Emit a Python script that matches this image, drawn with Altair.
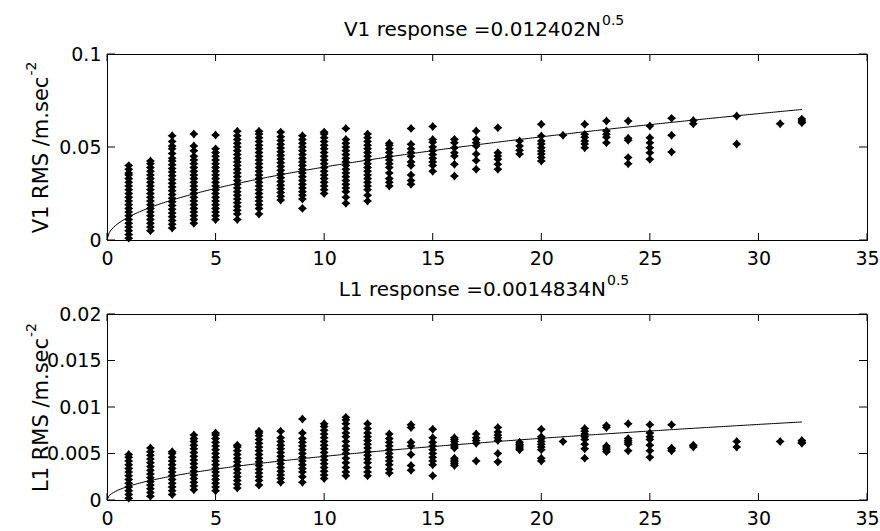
import altair as alt
import pandas as pd

# ---------------- data ----------------
N_VALUES = [1, 2, 3, 4, 5, 6, 7, 8, 9, 10, 11, 12, 13, 14, 15, 16, 17, 18, 19, 20,
            21, 22, 23, 24, 25, 26, 27, 29, 31, 32]

V1_RMS = [
    [0.001, 0.003, 0.005, 0.007, 0.009, 0.011, 0.013, 0.015, 0.017, 0.019, 0.021, 0.023, 0.025,
     0.027, 0.029, 0.031, 0.033, 0.035, 0.036, 0.038, 0.040],
    [0.005, 0.007, 0.009, 0.011, 0.013, 0.015, 0.017, 0.019, 0.021, 0.023, 0.025, 0.027, 0.029,
     0.031, 0.033, 0.035, 0.037, 0.039, 0.041, 0.0425],
    [0.0065, 0.0085, 0.0105, 0.0125, 0.0145, 0.0165, 0.0185, 0.0205, 0.0225, 0.0245, 0.0265,
     0.0285, 0.0305, 0.0325, 0.0345, 0.0365, 0.0385, 0.0405, 0.0425, 0.044, 0.0465, 0.049,
     0.0505, 0.053, 0.056],
    [0.009, 0.011, 0.013, 0.015, 0.017, 0.019, 0.021, 0.023, 0.025, 0.027, 0.029, 0.031, 0.033,
     0.035, 0.037, 0.039, 0.041, 0.043, 0.045, 0.048, 0.0505, 0.057],
    [0.011, 0.013, 0.015, 0.017, 0.019, 0.021, 0.023, 0.025, 0.027, 0.029, 0.031, 0.033, 0.035,
     0.037, 0.039, 0.041, 0.043, 0.045, 0.047, 0.049, 0.0565],
    [0.011, 0.014, 0.016, 0.018, 0.020, 0.022, 0.024, 0.026, 0.028, 0.030, 0.032, 0.034, 0.036,
     0.038, 0.040, 0.042, 0.044, 0.046, 0.048, 0.050, 0.052, 0.054, 0.056, 0.0585],
    [0.014, 0.017, 0.019, 0.021, 0.023, 0.025, 0.027, 0.029, 0.031, 0.033, 0.035, 0.037, 0.039,
     0.041, 0.043, 0.045, 0.047, 0.049, 0.051, 0.053, 0.055, 0.057, 0.0585],
    [0.0215, 0.0235, 0.0255, 0.0275, 0.0295, 0.0315, 0.0335, 0.0355, 0.0375, 0.0395, 0.0415,
     0.0435, 0.0455, 0.0475, 0.0495, 0.0515, 0.0535, 0.0555, 0.058],
    [0.017, 0.022, 0.024, 0.026, 0.028, 0.030, 0.032, 0.034, 0.036, 0.038, 0.040, 0.042, 0.044,
     0.046, 0.048, 0.050, 0.052, 0.054, 0.056],
    [0.025, 0.027, 0.029, 0.031, 0.033, 0.035, 0.037, 0.039, 0.041, 0.043, 0.045, 0.047, 0.049,
     0.051, 0.053, 0.055, 0.057, 0.058],
    [0.0198, 0.023, 0.026, 0.028, 0.030, 0.032, 0.034, 0.036, 0.038, 0.040, 0.042, 0.044, 0.046,
     0.048, 0.050, 0.052, 0.054, 0.060],
    [0.021, 0.024, 0.027, 0.029, 0.031, 0.033, 0.035, 0.037, 0.039, 0.041, 0.043, 0.045, 0.047,
     0.049, 0.051, 0.053, 0.055, 0.057],
    [0.029, 0.031, 0.033, 0.036, 0.039, 0.041, 0.043, 0.045, 0.047, 0.049, 0.051, 0.052],
    [0.030, 0.032, 0.035, 0.040, 0.042, 0.045, 0.047, 0.049, 0.0515, 0.060],
    [0.037, 0.040, 0.042, 0.044, 0.046, 0.048, 0.050, 0.0525, 0.054, 0.061],
    [0.0344, 0.0407, 0.0452, 0.0469, 0.0496, 0.0523, 0.0541],
    [0.038, 0.0428, 0.0462, 0.0505, 0.0523, 0.0541, 0.0586],
    [0.038, 0.0407, 0.0434, 0.0452, 0.0469, 0.0604],
    [0.0462, 0.0482, 0.0505, 0.0532],
    [0.0425, 0.0443, 0.0462, 0.0478, 0.0496, 0.0516, 0.0532, 0.0559, 0.0622],
    [0.0563],
    [0.0496, 0.0516, 0.0532, 0.0552, 0.0568, 0.0622],
    [0.0523, 0.0552, 0.0568, 0.0586, 0.064],
    [0.041, 0.0443, 0.0536, 0.0547, 0.064],
    [0.0434, 0.0469, 0.0496, 0.0523, 0.055, 0.0613],
    [0.0473, 0.0563, 0.0654],
    [0.0625, 0.0643],
    [0.0516, 0.0667],
    [0.0625],
    [0.063, 0.064, 0.065],
]

L1_RMS = [
    [0.0002, 0.0006, 0.001, 0.0014, 0.0018, 0.0022, 0.0026, 0.003, 0.0034, 0.0038, 0.0042,
     0.0046, 0.0049],
    [0.0004, 0.0008, 0.0012, 0.0016, 0.002, 0.0024, 0.0028, 0.0032, 0.0036, 0.004, 0.0044,
     0.0048, 0.0052, 0.0056],
    [0.0006, 0.001, 0.0014, 0.0018, 0.0022, 0.0026, 0.003, 0.0034, 0.0038, 0.0042, 0.0046,
     0.005, 0.0052],
    [0.0011, 0.0015, 0.0019, 0.0023, 0.0027, 0.0031, 0.0035, 0.0039, 0.0043, 0.0047, 0.0051,
     0.0055, 0.0059, 0.0063, 0.0066, 0.007],
    [0.001, 0.0014, 0.0018, 0.0022, 0.0026, 0.003, 0.0034, 0.0038, 0.0042, 0.0046, 0.005,
     0.0054, 0.0058, 0.0062, 0.0066, 0.007, 0.0072],
    [0.0013, 0.0017, 0.0021, 0.0025, 0.0029, 0.0033, 0.0037, 0.0041, 0.0045, 0.0049, 0.0053,
     0.0057, 0.0059],
    [0.0016, 0.0021, 0.0025, 0.0029, 0.0033, 0.0037, 0.0041, 0.0045, 0.0049, 0.0053, 0.0057,
     0.0061, 0.0065, 0.0069, 0.0072, 0.0074],
    [0.0019, 0.0023, 0.0027, 0.0031, 0.0035, 0.0039, 0.0043, 0.0047, 0.0051, 0.0055, 0.0059,
     0.0063, 0.0067, 0.0074],
    [0.0019, 0.0025, 0.003, 0.0034, 0.0038, 0.0042, 0.0046, 0.005, 0.0054, 0.0058, 0.0062,
     0.0066, 0.0072, 0.0087],
    [0.0023, 0.0027, 0.0031, 0.0035, 0.0039, 0.0043, 0.0047, 0.0051, 0.0055, 0.0059, 0.0063,
     0.0067, 0.0071, 0.0075, 0.0079, 0.0082],
    [0.0026, 0.003, 0.0035, 0.004, 0.0045, 0.005, 0.0054, 0.0058, 0.0063, 0.0068, 0.0072,
     0.0077, 0.0082, 0.0086, 0.0089],
    [0.0026, 0.003, 0.0035, 0.004, 0.0044, 0.0048, 0.0052, 0.0056, 0.006, 0.0064, 0.0068,
     0.0072, 0.0077, 0.0082],
    [0.0029, 0.0033, 0.0038, 0.0042, 0.0046, 0.005, 0.0054, 0.0058, 0.0062, 0.0066, 0.0071],
    [0.0032, 0.0037, 0.0049, 0.0058, 0.0062, 0.0078, 0.0081],
    [0.0026, 0.0038, 0.0042, 0.0046, 0.005, 0.0054, 0.0058, 0.0062, 0.0067, 0.0076],
    [0.0037, 0.0039, 0.0041, 0.0043, 0.0045, 0.0056, 0.0058, 0.006, 0.0063, 0.0065, 0.0067],
    [0.0042, 0.0061, 0.0064, 0.0067, 0.0071],
    [0.0041, 0.005, 0.0064, 0.0067, 0.007, 0.0073, 0.0078],
    [0.0054, 0.0056, 0.0058, 0.006, 0.0062],
    [0.0042, 0.0045, 0.0054, 0.0057, 0.006, 0.0063, 0.0066, 0.0068, 0.0076],
    [0.0063],
    [0.0045, 0.0055, 0.006, 0.0065, 0.0068, 0.0071, 0.0074, 0.0077],
    [0.0052, 0.0054, 0.0056, 0.0058, 0.0078, 0.008],
    [0.0053, 0.006, 0.0062, 0.0064, 0.0066, 0.0082],
    [0.0046, 0.0053, 0.0059, 0.0065, 0.0068, 0.0072, 0.0081],
    [0.0053, 0.0055, 0.0056, 0.0081],
    [0.0057, 0.0059],
    [0.0057, 0.0063],
    [0.0063],
    [0.0061, 0.0062, 0.0064],
]

V1_COEF = 0.012402
L1_COEF = 0.0014834
FIT_RANGE = [0, 32]

X_TICKS = [0, 5, 10, 15, 20, 25, 30, 35]
V1_Y_TICKS = [0, 0.05, 0.1]
L1_Y_TICKS = [0, 0.005, 0.01, 0.015, 0.02]

V1_TITLE = "V1 response =0.012402N"
L1_TITLE = "L1 response =0.0014834N"
TITLE_EXP = "0.5"
V1_YLABEL = "V1 RMS /m.sec"
L1_YLABEL = "L1 RMS /m.sec"
YLABEL_EXP = "-2"

# ---------------- styling ----------------
FONT = "DejaVu Sans"
W, H = 760, 186
STAR = "M0,-1L0.45,-0.45L1,0L0.45,0.45L0,1L-0.45,0.45L-1,0L-0.45,-0.45Z"


def panel(values, coef, ymax, yticks, title, ylabel, title_end, ylabel_len, anchor=False):
    df = pd.DataFrame([{"N": n, "RMS": v} for n, vs in zip(N_VALUES, values) for v in vs])
    xs = alt.Scale(domain=[0, 35], nice=False, zero=False)
    ys = alt.Scale(domain=[0, ymax], nice=False, zero=False)
    xaxis = alt.Axis(values=X_TICKS, format="d", title=None, domain=False, ticks=False,
                     tickSize=0, grid=False, labelFont=FONT, labelFontSize=19,
                     labelColor="black", labelPadding=9, labelFlush=False, labelOverlap=False)
    yaxis = alt.Axis(values=yticks, format="~g", title=None, domain=False, ticks=False,
                     tickSize=0, grid=False, labelFont=FONT, labelFontSize=19,
                     labelColor="black", labelPadding=6, labelFlush=False, labelOverlap=False)

    points = alt.Chart(df).mark_point(shape=STAR, filled=True, size=80, color="black",
                                      opacity=1).encode(
        x=alt.X("N:Q", scale=xs, axis=xaxis),
        y=alt.Y("RMS:Q", scale=ys, axis=yaxis),
    )
    curve = alt.Chart(alt.sequence(FIT_RANGE[0], FIT_RANGE[1] + 0.01, 0.1, as_="n")).transform_calculate(
        fit=f"{coef} * sqrt(datum.n)"
    ).mark_line(color="black", strokeWidth=1).encode(
        x=alt.X("n:Q", scale=xs, axis=xaxis),
        y=alt.Y("fit:Q", scale=ys, axis=yaxis),
    )
    xt = pd.DataFrame({"t": X_TICKS})
    yt = pd.DataFrame({"t": yticks})
    xtick_b = alt.Chart(xt).mark_rule(color="black", strokeWidth=1).encode(
        x=alt.X("t:Q", scale=xs, axis=xaxis), y=alt.value(H), y2=alt.value(H - 7))
    xtick_t = alt.Chart(xt).mark_rule(color="black", strokeWidth=1).encode(
        x=alt.X("t:Q", scale=xs, axis=xaxis), y=alt.value(0), y2=alt.value(7))
    ytick_l = alt.Chart(yt).mark_rule(color="black", strokeWidth=1).encode(
        y=alt.Y("t:Q", scale=ys, axis=yaxis), x=alt.value(0), x2=alt.value(8))
    ytick_r = alt.Chart(yt).mark_rule(color="black", strokeWidth=1).encode(
        y=alt.Y("t:Q", scale=ys, axis=yaxis), x=alt.value(W), x2=alt.value(W - 8))

    t_main = alt.Chart(pd.DataFrame({"s": [title]})).mark_text(
        font=FONT, fontSize=20, align="right", baseline="alphabetic", color="black").encode(
        text="s:N", x=alt.value(title_end), y=alt.value(-18))
    t_exp = alt.Chart(pd.DataFrame({"s": [TITLE_EXP]})).mark_text(
        font=FONT, fontSize=14, align="left", baseline="alphabetic", color="black").encode(
        text="s:N", x=alt.value(title_end + 1), y=alt.value(-29))
    yl_main = alt.Chart(pd.DataFrame({"s": [ylabel]})).mark_text(
        font=FONT, fontSize=21, align="center", baseline="alphabetic", angle=270,
        color="black").encode(text="s:N", x=alt.value(-59), y=alt.value(101))
    yl_exp = alt.Chart(pd.DataFrame({"s": [YLABEL_EXP]})).mark_text(
        font=FONT, fontSize=14, align="left", baseline="alphabetic", angle=270,
        color="black").encode(text="s:N", x=alt.value(-71),
                              y=alt.value(101 - ylabel_len / 2 - 1))
    layers = [points, curve, xtick_b, xtick_t, ytick_l, ytick_r, t_main, t_exp, yl_main, yl_exp]
    if anchor:
        layers.append(alt.Chart(pd.DataFrame({"a": [0]})).mark_rect(opacity=0).encode(
            x=alt.value(-106), x2=alt.value(-100), y=alt.value(-53), y2=alt.value(-50)))
    return alt.layer(*layers).properties(width=W, height=H)


top = panel(V1_RMS, V1_COEF, 0.1, V1_Y_TICKS, V1_TITLE, V1_YLABEL, 494, 157, anchor=True)
bottom = panel(L1_RMS, L1_COEF, 0.02, L1_Y_TICKS, L1_TITLE, L1_YLABEL, 499, 154)

chart = alt.vconcat(top, bottom, spacing=74, bounds="flush").properties(
    padding=0, background="white"
).configure_view(stroke="black", strokeWidth=1)

chart.save("out.html", embed_options={"renderer": "svg", "actions": False})
